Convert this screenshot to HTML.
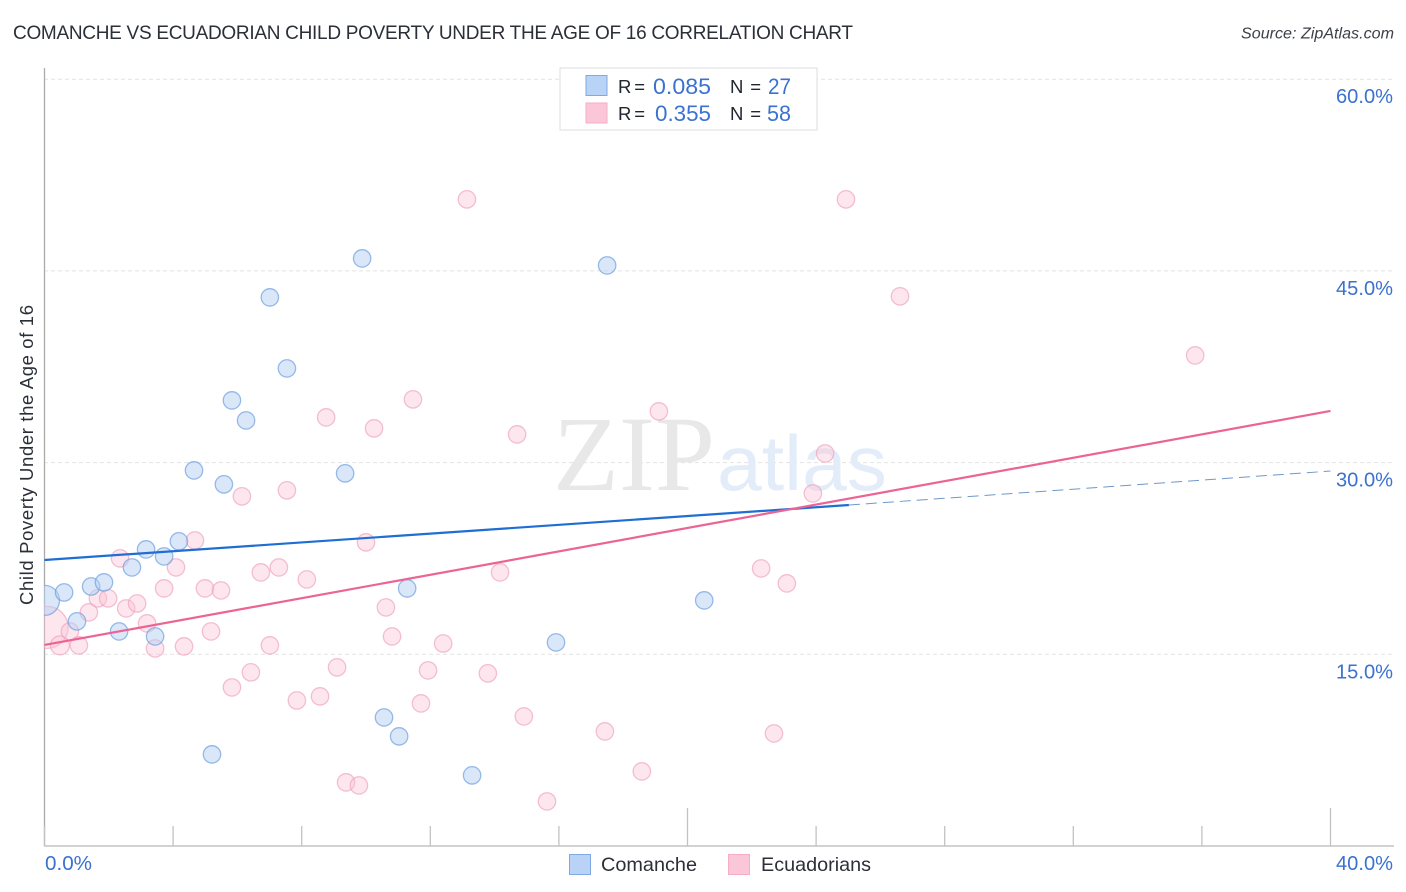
<!DOCTYPE html>
<html lang="en">
<head>
<meta charset="utf-8">
<title>Comanche vs Ecuadorian Child Poverty Correlation Chart</title>
<style>
html,body{margin:0;padding:0;background:#fff;width:1406px;height:892px;overflow:hidden}
svg{display:block;font-family:"Liberation Sans",sans-serif}
</style>
</head>
<body>
<svg id="chart" xmlns="http://www.w3.org/2000/svg" width="1406" height="892" viewBox="0 0 1406 892">
  <defs><clipPath id="plot-clip"><rect x="44" y="60" width="1350" height="786"/></clipPath></defs>
  <rect width="1406" height="892" fill="#fff"/>
  <text x="13" y="39" font-size="19" fill="#2b2f38" textLength="840" lengthAdjust="spacing">COMANCHE VS ECUADORIAN CHILD POVERTY UNDER THE AGE OF 16 CORRELATION CHART</text>
  <text x="1241" y="38.500" font-size="15.500" font-style="italic" fill="#3c4048" textLength="153" lengthAdjust="spacingAndGlyphs">Source: ZipAtlas.com</text>
  <g id="grid"></g>
  <g>
    <text x="553" y="490" font-family="'Liberation Serif',serif" font-size="107" fill="#e8e8e8" textLength="162" lengthAdjust="spacingAndGlyphs">ZIP</text>
    <text x="717" y="490" font-family="'Liberation Sans',sans-serif" font-size="78" fill="#e3ecf9" textLength="170" lengthAdjust="spacingAndGlyphs">atlas</text>
  </g>
  <g id="axes"></g>
  <g id="points" clip-path="url(#plot-clip)"></g>
  <g id="lines"></g>
  <g>
    <rect x="560" y="68" width="257" height="62" fill="#fff" stroke="#dcdcdc" stroke-width="1"/>
    <rect x="586" y="75.500" width="21" height="20" fill="#b9d3f6" stroke="#7fa9e2"/>
    <rect x="586" y="103" width="21" height="20" fill="#fcc6d9" stroke="#f5adc6"/>
    <text x="618" y="93" font-size="18.500" fill="#22262e" textLength="27" lengthAdjust="spacing">R =</text>
    <text x="653" y="94" font-size="22" fill="#3b72cf" textLength="58" lengthAdjust="spacingAndGlyphs">0.085</text>
    <text x="730" y="93" font-size="18.500" fill="#22262e" textLength="31" lengthAdjust="spacing">N =</text>
    <text x="768" y="94" font-size="22" fill="#3b72cf" textLength="23" lengthAdjust="spacingAndGlyphs">27</text>
    <text x="618" y="120" font-size="18.500" fill="#22262e" textLength="27" lengthAdjust="spacing">R =</text>
    <text x="655" y="121" font-size="22" fill="#3b72cf" textLength="56" lengthAdjust="spacingAndGlyphs">0.355</text>
    <text x="730" y="120" font-size="18.500" fill="#22262e" textLength="31" lengthAdjust="spacing">N =</text>
    <text x="767" y="121" font-size="22" fill="#3b72cf" textLength="24" lengthAdjust="spacingAndGlyphs">58</text>
  </g>
  <text transform="translate(33,455) rotate(-90)" font-size="18.500" fill="#2b2f38" text-anchor="middle" textLength="300">Child Poverty Under the Age of 16</text>
  <g>
    <rect x="569.500" y="854.500" width="21" height="20" fill="#b9d3f6" stroke="#7fa9e2"/>
    <text x="601" y="871" font-size="19.500" fill="#2b2f38" textLength="96" lengthAdjust="spacingAndGlyphs">Comanche</text>
    <rect x="728.500" y="854.500" width="21" height="20" fill="#fcc6d9" stroke="#f5adc6"/>
    <text x="761" y="871" font-size="19.500" fill="#2b2f38" textLength="110" lengthAdjust="spacingAndGlyphs">Ecuadorians</text>
  </g>
</svg>
<script>
const xTickValues = [0, 4, 8, 12, 16, 20, 24, 28, 32, 36, 40];
const xEndLabels = ["0.0%", "40.0%"];
const yTickValues = [15, 30, 45, 60];
const yTickLabels = ["15.0%", "30.0%", "45.0%", "60.0%"];

const comancheX = [0.00,0.61,1.01,1.45,1.85,2.32,2.72,3.16,3.44,3.72,4.18,4.65,5.21,5.58,5.83,6.27,7.01,7.54,9.35,9.88,10.56,11.03,11.28,13.30,15.91,17.50,20.52];
const comancheY = [19.25,19.87,17.61,20.34,20.66,16.82,21.83,23.24,16.43,22.69,23.87,29.42,7.20,28.33,34.90,33.33,42.96,37.40,29.19,46.01,10.09,8.61,20.19,5.56,15.96,45.46,19.25];

const ecuadorianX = [0.08,0.48,0.79,1.07,1.38,1.66,1.98,2.35,2.54,2.88,3.19,3.44,3.72,4.09,4.34,4.68,4.99,5.18,5.49,5.83,6.14,6.42,6.73,7.01,7.29,7.54,7.85,8.16,8.57,8.76,9.10,9.38,9.78,10.00,10.25,10.62,10.81,11.46,11.71,11.93,12.40,13.14,13.79,14.17,14.70,14.91,15.63,17.43,18.58,19.11,22.29,22.69,23.09,23.90,24.28,24.93,26.61,35.79];
const ecuadorianY = [17.14,15.73,16.82,15.73,18.31,19.41,19.41,22.54,18.62,19.01,17.45,15.49,20.19,21.83,15.65,23.94,20.19,16.82,20.03,12.44,27.39,13.62,21.44,15.73,21.83,27.86,11.42,20.89,11.74,33.57,14.01,5.01,4.77,23.79,32.71,18.70,16.43,34.98,11.19,13.77,15.88,50.63,13.54,21.44,32.24,10.17,3.52,9.00,5.87,34.04,21.75,8.84,20.58,27.62,30.75,50.63,43.04,38.42];

const comancheTrendX = [0, 25.02];
const comancheTrendY = [22.38, 26.68];
const comancheForecastX = [25.02, 40];
const comancheForecastY = [26.68, 29.34];
const ecuadorianTrendX = [0, 40];
const ecuadorianTrendY = [15.73, 34.04];

const NS = 'http://www.w3.org/2000/svg';
function xPos(v){ return 44.5 + v * 32.15; }
function yPos(v){ return 846 - v * 12.78; }
function make(parent, tag, attrs){
  const el = document.createElementNS(NS, tag);
  for (const k in attrs) el.setAttribute(k, attrs[k]);
  parent.appendChild(el);
  return el;
}

const grid = document.getElementById('grid');
yTickValues.forEach(function(v){
  const gl = make(grid, 'line', {x1:44, x2:1394, y1:yPos(v), y2:yPos(v), stroke:'#e2e2e2', 'stroke-width':1, 'stroke-dasharray':'4 3'});
  
  
});

const axes = document.getElementById('axes');
const yAxis = make(axes, 'line', {x1:44.5, x2:44.5, y1:68, y2:846, stroke:'#ababab', 'stroke-width':1.3});


const xAxis = make(axes, 'line', {x1:44, x2:1394, y1:846, y2:846, stroke:'#b8b8b8', 'stroke-width':1.3});


xTickValues.forEach(function(v, i){
  const tall = (i === 5 || i === 10);
  const t = make(axes, 'line', {x1:xPos(v), x2:xPos(v), y1: tall ? 808 : 826, y2:846, stroke:'#c2c2c2', 'stroke-width':1.3});
  
  
});
yTickValues.forEach(function(v, i){
  const l = make(axes, 'text', {x:1336, y:yPos(v) + 24, 'font-size':20, fill:'#3b72cf', textLength:57, lengthAdjust:'spacingAndGlyphs'});
  
  
  l.textContent = yTickLabels[i];
});
const xLabelLeft = make(axes, 'text', {x:45, y:870, 'font-size':20, fill:'#3b72cf', textLength:47, lengthAdjust:'spacingAndGlyphs'});


xLabelLeft.textContent = xEndLabels[0];
const xLabelRight = make(axes, 'text', {x:1336, y:870, 'font-size':20, fill:'#3b72cf', textLength:57, lengthAdjust:'spacingAndGlyphs'});


xLabelRight.textContent = xEndLabels[1];

const points = document.getElementById('points');
ecuadorianX.forEach(function(v, i){
  const r = i === 0 ? 21 : (i === 1 ? 9.5 : 8.7);
  const c = make(points, 'circle', {cx:xPos(v), cy:yPos(ecuadorianY[i]) + 0.4, r:r, fill:'#fbc4d7', 'fill-opacity':0.42, stroke:'#eea0bb', 'stroke-opacity':0.65, 'stroke-width':1.3});
  
  
});
comancheX.forEach(function(v, i){
  const r = i === 0 ? 15 : 8.7;
  const c = make(points, 'circle', {cx:xPos(v), cy:yPos(comancheY[i]) + 0.4, r:r, fill:'#b4cff4', 'fill-opacity':0.5, stroke:'#6f9fe0', 'stroke-opacity':0.7, 'stroke-width':1.3});
  
  
});

const lines = document.getElementById('lines');
const forecast = make(lines, 'line', {x1:xPos(comancheForecastX[0]), y1:yPos(comancheForecastY[0]), x2:xPos(comancheForecastX[1]), y2:yPos(comancheForecastY[1]), stroke:'#6f98c9', 'stroke-width':1, 'stroke-dasharray':'11 6'});


const blueTrend = make(lines, 'line', {x1:xPos(comancheTrendX[0]), y1:yPos(comancheTrendY[0]), x2:xPos(comancheTrendX[1]), y2:yPos(comancheTrendY[1]), stroke:'#1f6ed4', 'stroke-width':2.2});


const pinkTrend = make(lines, 'line', {x1:xPos(ecuadorianTrendX[0]), y1:yPos(ecuadorianTrendY[0]), x2:xPos(ecuadorianTrendX[1]), y2:yPos(ecuadorianTrendY[1]), stroke:'#ec6493', 'stroke-width':2.2});


</script>
</body>
</html>
